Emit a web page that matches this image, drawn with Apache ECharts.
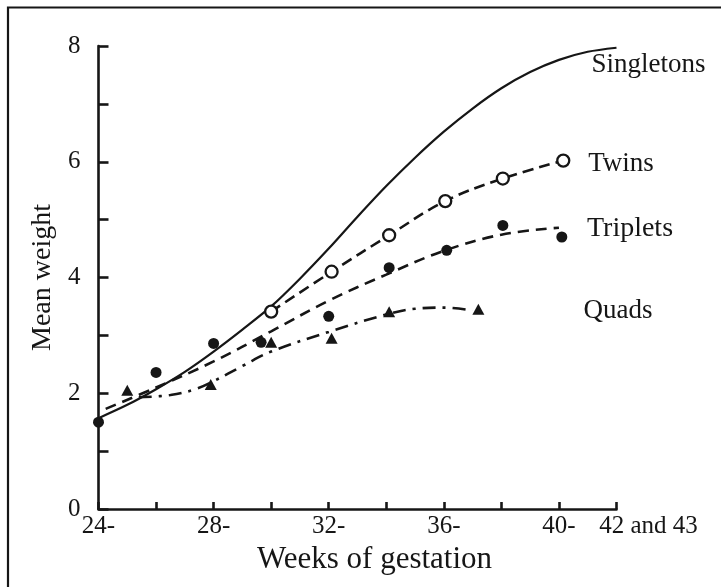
<!DOCTYPE html>
<html>
<head>
<meta charset="utf-8">
<script src="https://cdn.jsdelivr.net/npm/echarts@6/dist/echarts.min.js"></script>
<style>
html,body{margin:0;padding:0;background:#fff;}
#chart{width:721px;height:587px;}
</style>
</head>
<body>
<div id="chart"></div>
<script>
// ---- data ----
const xTickValues = [24, 28, 32, 36, 40, 42];
const xTickTexts = ['24-', '28-', '32-', '36-', '40-', '42 and 43'];
const yTickValues = [0, 2, 4, 6, 8];

const singletonWeeks = [24, 25, 26, 27, 28, 29, 30, 31, 32, 33, 34, 35, 36, 37, 38, 39, 40, 41, 42];
const singletonWeight = [1.57, 1.8, 2.07, 2.37, 2.72, 3.1, 3.5, 3.98, 4.5, 5.05, 5.58, 6.07, 6.52, 6.92, 7.27, 7.55, 7.76, 7.9, 7.97];

const twinWeeks = [30, 32.1, 34.1, 36.05, 38.05, 40.15];
const twinWeight = [3.41, 4.1, 4.73, 5.32, 5.71, 6.02];

const tripletFitWeeks = [24.25, 26, 28, 30, 32, 34, 36, 38, 40];
const tripletFitWeight = [1.73, 2.1, 2.55, 3.07, 3.6, 4.05, 4.46, 4.74, 4.86];
const tripletWeeks = [24, 26, 28, 29.65, 32, 34.1, 36.1, 38.05, 40.1];
const tripletWeight = [1.5, 2.36, 2.86, 2.88, 3.33, 4.17, 4.47, 4.9, 4.7];

const quadFitWeeks = [25.4, 26.5, 27.3, 28, 29, 30, 32, 34, 35, 36, 37];
const quadFitWeight = [1.93, 1.97, 2.06, 2.21, 2.47, 2.72, 3.06, 3.36, 3.46, 3.48, 3.43];
const quadWeeks = [25, 27.9, 30, 32.1, 34.1, 37.2];
const quadWeight = [2.05, 2.15, 2.88, 2.95, 3.41, 3.45];

// ---- build options ----
const zip = (xs, ys) => xs.map((x, i) => [x, ys[i]]);
const INK = '#161616';
const FONT = "'Liberation Serif', 'Times New Roman', serif";

const chart = echarts.init(document.getElementById('chart'), null, {renderer: 'canvas'});
chart.setOption({
  animation: false,
  backgroundColor: '#fff',
  textStyle: {fontFamily: FONT, color: INK},
  grid: {left: 98.5, right: 104.5, top: 46, bottom: 78, containLabel: false},
  graphic: [{
    type: 'polyline',
    silent: true,
    shape: {points: [[8, 587], [8, 7.5], [721, 7.5]]},
    style: {stroke: INK, lineWidth: 2.2, fill: null}
  }],
  xAxis: {
    type: 'value', min: 24, max: 42, interval: 2,
    name: 'Weeks of gestation', nameLocation: 'middle', nameGap: 30,
    nameTextStyle: {fontFamily: FONT, fontSize: 31, color: INK, padding: [0, 0, 0, 34]},
    axisLine: {show: true, onZero: false, lineStyle: {color: INK, width: 2.6}},
    axisTick: {show: true, inside: true, length: 7, lineStyle: {color: INK, width: 2.6}},
    splitLine: {show: false},
    axisLabel: {
      fontFamily: FONT, fontSize: 25, color: INK, margin: 5, showMaxLabel: true, showMinLabel: true,
      formatter: function (v) {
        const i = xTickValues.indexOf(v);
        if (i < 0) return '';
        return i === xTickValues.length - 1 ? '{r|' + xTickTexts[i] + '}' : xTickTexts[i];
      },
      rich: {r: {fontFamily: FONT, fontSize: 25, color: INK, padding: [0, 0, 0, 64]}}
    }
  },
  yAxis: {
    type: 'value', min: 0, max: 8, interval: 1,
    name: 'Mean weight', nameLocation: 'middle', nameGap: 40,
    nameTextStyle: {fontFamily: FONT, fontSize: 28, color: INK},
    axisLine: {show: true, onZero: false, lineStyle: {color: INK, width: 2.6}},
    axisTick: {show: true, inside: true, length: 10, lineStyle: {color: INK, width: 2.6}},
    splitLine: {show: false},
    axisLabel: {
      fontFamily: FONT, fontSize: 25, color: INK, margin: 18,
      formatter: v => (yTickValues.indexOf(v) >= 0 ? String(v) : '')
    }
  },
  series: [
    {
      name: 'Singletons', type: 'line', smooth: 0.3, showSymbol: false, symbol: 'none',
      data: zip(singletonWeeks, singletonWeight),
      lineStyle: {color: INK, width: 2.2},
      endLabel: {show: true, formatter: 'Singletons', fontFamily: FONT, fontSize: 27, color: INK, offset: [-33, 17]}
    },
    {
      name: 'Twins', type: 'line', smooth: 0.4,
      data: zip(twinWeeks, twinWeight),
      symbol: 'circle', symbolSize: 12, showSymbol: true,
      itemStyle: {color: '#fff', borderColor: INK, borderWidth: 2.3, opacity: 1},
      lineStyle: {color: INK, width: 2.6, type: [11, 6]},
      endLabel: {show: true, formatter: 'Twins', fontFamily: FONT, fontSize: 27, color: INK, offset: [17, 3]}
    },
    {
      name: 'Triplets', type: 'line', smooth: 0.4, symbol: 'none', showSymbol: false,
      data: zip(tripletFitWeeks, tripletFitWeight),
      lineStyle: {color: INK, width: 2.6, type: [11, 7]},
      endLabel: {show: true, formatter: 'Triplets', fontFamily: FONT, fontSize: 28, color: INK, offset: [20, 1]}
    },
    {
      name: 'Triplets (observed)', type: 'scatter', symbol: 'circle', symbolSize: 11,
      data: zip(tripletWeeks, tripletWeight),
      itemStyle: {color: INK, opacity: 1}
    },
    {
      name: 'Quads', type: 'line', smooth: 0.4, symbol: 'none', showSymbol: false,
      data: zip(quadFitWeeks, quadFitWeight),
      lineStyle: {color: INK, width: 2.6, type: [13, 7, 3, 7]},
      endLabel: {show: true, formatter: 'Quads', fontFamily: FONT, fontSize: 27, color: INK, offset: [103, 0]}
    },
    {
      name: 'Quads (observed)', type: 'scatter', symbol: 'triangle', symbolSize: [12, 11],
      data: zip(quadWeeks, quadWeight),
      itemStyle: {color: INK, opacity: 1}
    }
  ]
});
</script>
</body>
</html>
